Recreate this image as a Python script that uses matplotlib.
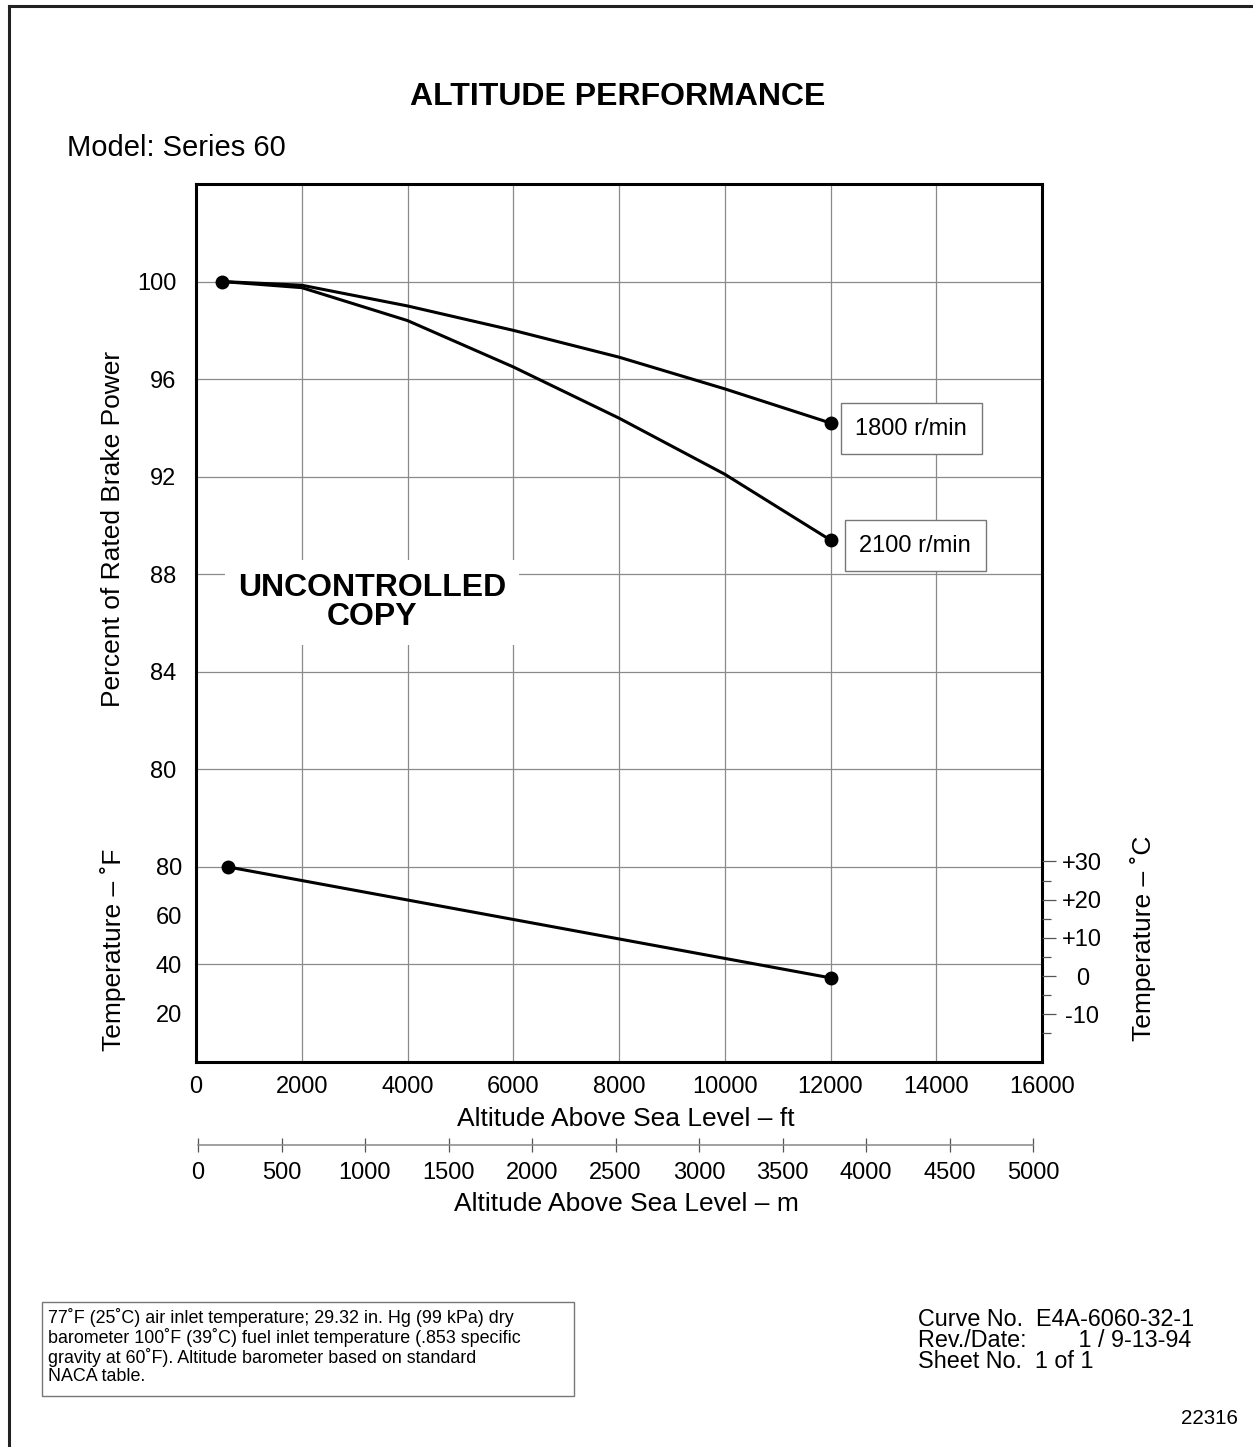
import matplotlib
matplotlib.use("Agg")
import matplotlib.pyplot as plt
from matplotlib.lines import Line2D
from matplotlib.patches import Rectangle

plt.rcParams["font.family"] = ["Liberation Sans", "DejaVu Sans"]

W, H = 1253, 1447

# altitude (ft) vs percent of rated brake power
alt_ft = [500, 2000, 4000, 6000, 8000, 10000, 12000]
power_1800 = [100.0, 99.85, 99.0, 98.0, 96.9, 95.6, 94.2]
power_2100 = [100.0, 99.75, 98.4, 96.5, 94.4, 92.1, 89.4]
curve_labels = ["1800 r/min", "2100 r/min"]

# ambient temperature line (deg F)
temp_alt_ft = [600, 12000]
temp_f = [80.0, 34.5]

ft_ticks = list(range(0, 16001, 2000))
power_ticks = [72, 76, 80, 84, 88, 92, 96, 100]
power_labels = ["", "", "80", "84", "88", "92", "96", "100"]
temp_f_ticks = [20, 40, 60, 80]
temp_c_ticks = [-10, 0, 10, 20, 30]
temp_c_labels = ["-10", "0", "+10", "+20", "+30"]
temp_c_minor = [-15, -5, 5, 15, 25]
m_ticks = list(range(0, 5001, 500))

TICK_FS = 17
LABEL_FS = 19


def fig_rect(x0, y0, x1, y1):
    # pixel box (top-left origin) -> figure fraction rect
    return [x0 / W, 1 - y1 / H, (x1 - x0) / W, (y1 - y0) / H]


fig = plt.figure(figsize=(W / 100, H / 100), dpi=100)

grid_kw = dict(color="#8a8a8a", linewidth=0.9)

ax = fig.add_axes(fig_rect(196, 184, 1042, 1062))
ax.set_xlim(0, 16000)
ax.set_ylim(68, 104)
ax.set_xticks(ft_ticks)
ax.set_yticks(power_ticks)
ax.set_yticklabels(power_labels)
ax.tick_params(axis="both", length=0, labelsize=TICK_FS)
ax.tick_params(axis="x", pad=10)
ax.tick_params(axis="y", pad=14)
ax.grid(True, **grid_kw)
ax.set_axisbelow(True)
for sp in ax.spines.values():
    sp.set_linewidth(2.2)
ax.set_xlabel("Altitude Above Sea Level – ft", fontsize=LABEL_FS)
ax.xaxis.set_label_coords(0.508, -0.051)

ax.plot(alt_ft, power_1800, color="black", linewidth=2.2, zorder=3)
ax.plot(alt_ft, power_2100, color="black", linewidth=2.2, zorder=3)
ax.plot([alt_ft[0], alt_ft[-1], alt_ft[-1]],
        [power_1800[0], power_1800[-1], power_2100[-1]],
        "o", color="black", markersize=9, zorder=4)

for lab, yv, dx in zip(curve_labels, [power_1800[-1], power_2100[-1]], [58, 61]):
    ax.annotate(lab, xy=(alt_ft[-1], yv), xytext=(dx, -4), textcoords="offset points",
                ha="center", va="center", fontsize=TICK_FS, zorder=5,
                bbox=dict(boxstyle="square,pad=0.62", fc="white", ec="#777777", lw=1.0))

ax.text(0.208, 0.5234, "UNCONTROLLED\nCOPY", transform=ax.transAxes,
        ha="center", va="center", fontsize=23, fontweight="bold", linespacing=0.98,
        zorder=2.5, bbox=dict(boxstyle="square,pad=0.4", fc="white", ec="none"))

# temperature (F) overlay, left side
axf = fig.add_axes(fig_rect(196, 184, 1042, 1062), sharex=ax)
axf.set_ylim(0, 360)
axf.patch.set_visible(False)
for sp in axf.spines.values():
    sp.set_visible(False)
axf.set_yticks(temp_f_ticks)
axf.tick_params(axis="y", length=0, labelsize=TICK_FS, pad=10)
axf.tick_params(axis="x", length=0, labelbottom=False)
axf.plot(temp_alt_ft, temp_f, color="black", linewidth=2.2, zorder=3)
axf.plot(temp_alt_ft, temp_f, "o", color="black", markersize=9, zorder=4)

# temperature (C) scale, right side
axc = fig.add_axes(fig_rect(196, 184, 1042, 1062))
axc.set_ylim(-22.5, 207.3)
axc.patch.set_visible(False)
for sp in axc.spines.values():
    sp.set_visible(False)
axc.set_xticks([])
axc.yaxis.tick_right()
axc.set_yticks(temp_c_ticks)
axc.set_yticklabels(temp_c_labels)
axc.set_yticks(temp_c_minor, minor=True)
axc.tick_params(axis="y", which="major", direction="out", length=10, width=0.9,
                color="#555555", labelsize=TICK_FS, pad=19)
axc.tick_params(axis="y", which="minor", direction="out", length=6.8, width=0.9,
                color="#555555")
for t in axc.get_yticklabels():
    t.set_horizontalalignment("center")

# axis titles on the left / right
fig.text(113 / W, 1 - 529 / H, "Percent of Rated Brake Power", rotation=90,
         ha="center", va="center", fontsize=LABEL_FS)
fig.text(113 / W, 1 - 950 / H, "Temperature – ˚F", rotation=90,
         ha="center", va="center", fontsize=LABEL_FS)
fig.text(1143 / W, 1 - 938 / H, "Temperature – ˚C", rotation=90,
         ha="center", va="center", fontsize=LABEL_FS)

# metric altitude scale
axm = fig.add_axes(fig_rect(198, 1144, 1033, 1145))
axm.set_xlim(0, 5000)
axm.patch.set_visible(False)
for name, sp in axm.spines.items():
    sp.set_visible(name == "bottom")
axm.spines["bottom"].set_color("#888888")
axm.spines["bottom"].set_linewidth(1.1)
axm.set_yticks([])
axm.set_xticks(m_ticks)
axm.tick_params(axis="x", direction="inout", length=10, width=0.9, color="#555555",
                labelsize=TICK_FS, pad=7)
axm.set_xlabel("Altitude Above Sea Level – m", fontsize=LABEL_FS, labelpad=6)
axm.xaxis.label.set_x(0.5126)

# title block
fig.text(618 / W, 1 - 97 / H, "ALTITUDE PERFORMANCE", ha="center", va="center",
         fontsize=23, fontweight="bold")
fig.text(67 / W, 1 - 148 / H, "Model: Series 60", ha="left", va="center", fontsize=21)

note = ("77˚F (25˚C) air inlet temperature; 29.32 in. Hg (99 kPa) dry\n"
        "barometer 100˚F (39˚C) fuel inlet temperature (.853 specific\n"
        "gravity at 60˚F). Altitude barometer based on standard\n"
        "NACA table.")
fig.add_artist(Rectangle((42 / W, 1 - 1396 / H), (574 - 42) / W, (1396 - 1302) / H,
                         transform=fig.transFigure, fill=False, ec="#777777", lw=1.0))
fig.text(48 / W, 1 - 1308 / H, note, ha="left", va="top", fontsize=12.9, linespacing=1.06)

info = "Curve No.  E4A-6060-32-1\nRev./Date:        1 / 9-13-94\nSheet No.  1 of 1"
fig.text(918 / W, 1 - 1308 / H, info, ha="left", va="top", fontsize=16.8, linespacing=0.9)
fig.text(1238 / W, 1 - 1418 / H, "22316", ha="right", va="center", fontsize=14.8)

# page frame (left and top edges)
fig.add_artist(Line2D([9 / W, 9 / W], [0, 1 - 6 / H], color="#222222", lw=2.2))
fig.add_artist(Line2D([9 / W, 1], [1 - 6 / H, 1 - 6 / H], color="#222222", lw=2.2))

fig.savefig("out.png", dpi=100, facecolor="white")
